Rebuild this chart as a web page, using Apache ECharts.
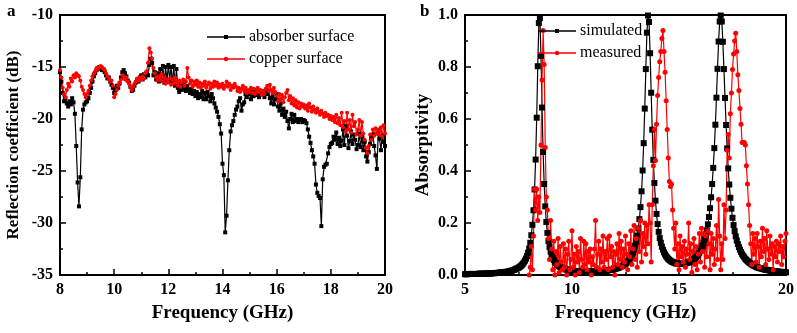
<!DOCTYPE html>
<html><head><meta charset="utf-8">
<script src="https://cdn.jsdelivr.net/npm/echarts@6/dist/echarts.min.js"></script>
<style>html,body{margin:0;padding:0;background:#fff}#c{width:797px;height:333px}</style>
</head><body><div id="c"></div>
<script>
// ---------- Panel a: reflection coefficient (dB) ----------
const freqA = [
8.00,8.05,8.10,8.15,8.20,8.25,8.30,8.35,8.40,8.45,8.50,8.55,8.60,8.65,8.70,8.75,8.80,8.85,8.90,8.95,
9.00,9.05,9.10,9.15,9.20,9.25,9.30,9.35,9.40,9.45,9.50,9.55,9.60,9.65,9.70,9.75,9.80,9.85,9.90,9.95,
10.00,10.05,10.10,10.15,10.20,10.25,10.30,10.35,10.40,10.45,10.50,10.55,10.60,10.65,10.70,10.75,10.80,10.85,10.90,10.95,
11.00,11.05,11.10,11.15,11.20,11.25,11.30,11.35,11.40,11.45,11.50,11.55,11.60,11.65,11.70,11.75,11.80,11.85,11.90,11.95,
12.00,12.05,12.10,12.15,12.20,12.25,12.30,12.35,12.40,12.45,12.50,12.55,12.60,12.65,12.70,12.75,12.80,12.85,12.90,12.95,
13.00,13.05,13.10,13.15,13.20,13.25,13.30,13.35,13.40,13.45,13.50,13.55,13.60,13.65,13.70,13.75,13.80,13.85,13.90,13.95,
14.00,14.05,14.10,14.15,14.20,14.25,14.30,14.35,14.40,14.45,14.50,14.55,14.60,14.65,14.70,14.75,14.80,14.85,14.90,14.95,
15.00,15.05,15.10,15.15,15.20,15.25,15.30,15.35,15.40,15.45,15.50,15.55,15.60,15.65,15.70,15.75,15.80,15.85,15.90,15.95,
16.00,16.05,16.10,16.15,16.20,16.25,16.30,16.35,16.40,16.45,16.50,16.55,16.60,16.65,16.70,16.75,16.80,16.85,16.90,16.95,
17.00,17.05,17.10,17.15,17.20,17.25,17.30,17.35,17.40,17.45,17.50,17.55,17.60,17.65,17.70,17.75,17.80,17.85,17.90,17.95,
18.00,18.05,18.10,18.15,18.20,18.25,18.30,18.35,18.40,18.45,18.50,18.55,18.60,18.65,18.70,18.75,18.80,18.85,18.90,18.95,
19.00,19.05,19.10,19.15,19.20,19.25,19.30,19.35,19.40,19.45,19.50,19.55,19.60,19.65,19.70,19.75,19.80,19.85,19.90,19.95,
20.00];

const absorberSurface = [
-15.5,-16.4,-17.5,-18.3,-18.0,-18.5,-18.8,-18.3,-18.6,-18.0,-18.4,-19.5,-22.6,-26.1,-28.4,-25.6,-21.0,-19.1,-18.6,-18.4,
-18.3,-18.0,-17.5,-17.0,-16.4,-15.9,-15.6,-15.3,-15.2,-15.0,-15.1,-15.3,-15.2,-15.5,-15.8,-16.1,-16.0,-16.4,-16.7,-17.0,
-17.5,-17.2,-16.8,-17.0,-16.6,-16.0,-15.5,-15.3,-15.6,-15.9,-16.3,-16.5,-16.9,-17.3,-17.2,-16.8,-16.5,-16.2,-16.4,-16.0,
-15.8,-16.2,-15.7,-16.0,-15.5,-15.8,-14.8,-14.2,-14.6,-15.8,-15.5,-16.2,-15.6,-16.4,-15.2,-16.3,-14.9,-16.5,-15.0,-16.4,
-14.8,-16.2,-15.0,-16.6,-14.9,-16.8,-15.2,-17.0,-17.4,-16.8,-17.2,-16.6,-17.0,-17.3,-16.8,-17.2,-17.5,-17.1,-17.6,-17.3,
-17.8,-17.4,-18.0,-17.6,-17.9,-17.3,-18.1,-17.5,-18.1,-17.4,-17.8,-18.3,-17.6,-18.0,-18.5,-18.9,-19.3,-19.8,-20.5,-21.4,
-24.3,-25.4,-30.9,-29.3,-25.9,-23.0,-21.2,-20.6,-20.2,-19.6,-19.1,-18.8,-18.3,-18.0,-19.2,-18.6,-18.4,-17.6,-17.9,-17.3,
-17.6,-18.1,-17.4,-17.8,-17.2,-17.7,-17.4,-17.9,-17.3,-17.6,-17.5,-17.9,-17.2,-17.6,-17.3,-18.0,-18.5,-17.8,-18.6,-18.1,
-17.6,-18.8,-19.2,-18.5,-19.6,-19.0,-19.8,-19.3,-20.2,-20.9,-20.0,-19.5,-20.3,-19.6,-20.2,-20.0,-20.3,-20.1,-20.0,-20.3,
-20.1,-20.2,-20.4,-21.0,-21.7,-22.3,-23.0,-23.6,-24.3,-26.3,-27.1,-27.4,-27.6,-30.3,-25.8,-24.6,-24.4,-24.3,-23.3,-22.7,
-22.4,-22.3,-21.7,-22.0,-21.3,-22.4,-21.8,-22.6,-22.1,-21.0,-22.5,-20.7,-21.6,-22.8,-22.1,-21.2,-22.4,-21.5,-22.0,-22.9,
-22.5,-21.4,-22.7,-21.7,-23.0,-22.2,-23.6,-24.1,-23.2,-22.4,-21.8,-21.5,-22.6,-23.5,-24.8,-21.4,-21.9,-23.0,-21.6,-22.2,
-22.6];

const copperSurface = [
-15.3,-16.0,-17.0,-17.6,-17.9,-17.2,-16.6,-16.9,-16.1,-16.4,-15.8,-16.0,-15.6,-15.8,-15.9,-16.3,-16.9,-17.2,-17.6,-17.9,
-17.6,-17.3,-16.8,-16.3,-15.9,-15.6,-15.4,-15.1,-15.2,-15.0,-14.9,-15.0,-15.2,-15.3,-15.6,-15.9,-16.1,-16.4,-16.3,-16.8,
-17.9,-17.6,-17.2,-16.8,-16.5,-16.2,-15.8,-15.9,-16.2,-16.0,-16.4,-16.6,-16.9,-17.2,-16.9,-16.6,-16.4,-16.1,-16.3,-16.0,
-16.2,-15.9,-16.1,-15.6,-15.4,-14.6,-13.2,-13.6,-14.2,-15.1,-15.6,-16.0,-16.3,-15.9,-16.2,-15.7,-16.4,-16.0,-16.6,-16.2,
-16.5,-16.1,-16.7,-16.2,-16.6,-16.0,-16.4,-16.8,-16.3,-16.9,-16.5,-16.2,-16.8,-16.4,-15.1,-16.0,-16.6,-16.3,-16.9,-16.4,
-16.7,-16.3,-16.9,-16.5,-17.0,-16.6,-16.8,-16.4,-17.0,-16.7,-16.5,-17.1,-16.6,-16.9,-16.4,-16.8,-16.5,-17.0,-16.7,-16.9,
-16.6,-17.1,-16.8,-16.4,-16.9,-16.6,-17.2,-16.8,-17.0,-16.6,-16.9,-17.3,-17.0,-17.4,-17.1,-16.8,-17.3,-17.0,-17.5,-17.2,
-17.4,-17.0,-17.5,-17.1,-17.6,-17.3,-17.0,-17.4,-17.2,-17.7,-17.3,-17.6,-17.1,-16.8,-17.3,-16.7,-17.2,-17.5,-17.0,-17.4,
-17.8,-18.3,-17.6,-18.1,-17.7,-18.4,-17.9,-17.5,-17.2,-18.2,-17.8,-18.5,-18.0,-18.7,-18.2,-18.9,-18.4,-19.0,-18.5,-18.8,
-18.6,-19.0,-18.7,-19.2,-18.5,-18.9,-19.3,-18.8,-19.1,-19.4,-19.0,-19.3,-19.6,-19.2,-19.5,-19.8,-19.4,-19.7,-19.6,-20.0,
-19.7,-20.1,-19.8,-20.3,-19.6,-20.4,-19.9,-20.6,-19.4,-20.8,-20.2,-21.2,-19.4,-21.0,-20.1,-21.3,-19.6,-20.7,-20.3,-21.5,
-21.0,-20.1,-21.6,-20.3,-21.4,-22.0,-22.8,-23.3,-22.6,-21.5,-22.0,-21.0,-21.6,-20.9,-21.4,-21.0,-21.5,-20.8,-21.7,-20.6,
-21.4];

// ---------- Panel b: absorptivity ----------
const freqSim = [
5.00,5.05,5.10,5.15,5.20,5.25,5.30,5.35,5.40,5.45,5.50,5.55,5.60,5.65,5.70,5.75,5.80,5.85,5.90,5.95,
6.00,6.05,6.10,6.15,6.20,6.25,6.30,6.35,6.40,6.45,6.50,6.55,6.60,6.65,6.70,6.75,6.80,6.85,6.90,6.95,
7.00,7.05,7.10,7.15,7.20,7.25,7.30,7.35,7.40,7.45,7.50,7.55,7.60,7.65,7.70,7.75,7.80,7.85,7.90,7.95,
8.00,8.05,8.10,8.15,8.20,8.25,8.30,8.35,8.40,8.45,8.50,8.55,8.60,8.65,8.70,8.75,8.80,8.85,8.90,8.95,
9.00,9.05,9.10,9.15,9.20,9.25,9.30,9.35,9.40,9.45,9.50,9.55,9.60,9.65,9.70,9.75,9.80,9.85,9.90,9.95,
10.00,10.05,10.10,10.15,10.20,10.25,10.30,10.35,10.40,10.45,10.50,10.55,10.60,10.65,10.70,10.75,10.80,10.85,10.90,10.95,
11.00,11.05,11.10,11.15,11.20,11.25,11.30,11.35,11.40,11.45,11.50,11.55,11.60,11.65,11.70,11.75,11.80,11.85,11.90,11.95,
12.00,12.05,12.10,12.15,12.20,12.25,12.30,12.35,12.40,12.45,12.50,12.55,12.60,12.65,12.70,12.75,12.80,12.85,12.90,12.95,
13.00,13.05,13.10,13.15,13.20,13.25,13.30,13.35,13.40,13.45,13.50,13.55,13.60,13.65,13.70,13.75,13.80,13.85,13.90,13.95,
14.00,14.05,14.10,14.15,14.20,14.25,14.30,14.35,14.40,14.45,14.50,14.55,14.60,14.65,14.70,14.75,14.80,14.85,14.90,14.95,
15.00,15.05,15.10,15.15,15.20,15.25,15.30,15.35,15.40,15.45,15.50,15.55,15.60,15.65,15.70,15.75,15.80,15.85,15.90,15.95,
16.00,16.05,16.10,16.15,16.20,16.25,16.30,16.35,16.40,16.45,16.50,16.55,16.60,16.65,16.70,16.75,16.80,16.85,16.90,16.95,
17.00,17.05,17.10,17.15,17.20,17.25,17.30,17.35,17.40,17.45,17.50,17.55,17.60,17.65,17.70,17.75,17.80,17.85,17.90,17.95,
18.00,18.05,18.10,18.15,18.20,18.25,18.30,18.35,18.40,18.45,18.50,18.55,18.60,18.65,18.70,18.75,18.80,18.85,18.90,18.95,
19.00,19.05,19.10,19.15,19.20,19.25,19.30,19.35,19.40,19.45,19.50,19.55,19.60,19.65,19.70,19.75,19.80,19.85,19.90,19.95,
20.00];

const simulated = [
0.003,0.003,0.003,0.004,0.004,0.004,0.004,0.004,0.004,0.004,0.004,0.004,0.004,0.005,0.005,0.005,0.005,0.005,0.005,0.005,
0.006,0.006,0.006,0.006,0.006,0.007,0.007,0.007,0.007,0.008,0.008,0.008,0.009,0.009,0.010,0.010,0.011,0.011,0.012,0.012,
0.013,0.014,0.015,0.016,0.017,0.019,0.020,0.022,0.024,0.026,0.028,0.031,0.034,0.038,0.043,0.048,0.055,0.063,0.073,0.086,
0.102,0.124,0.153,0.193,0.249,0.329,0.444,0.605,0.803,0.969,0.988,0.843,0.644,0.473,0.350,0.264,0.204,0.162,0.131,0.108,
0.090,0.077,0.066,0.058,0.051,0.046,0.041,0.037,0.034,0.031,0.029,0.027,0.025,0.023,0.022,0.021,0.020,0.019,0.018,0.017,
0.016,0.016,0.016,0.015,0.015,0.015,0.014,0.014,0.014,0.014,0.013,0.013,0.013,0.013,0.013,0.013,0.013,0.013,0.013,0.013,
0.013,0.013,0.013,0.014,0.014,0.014,0.015,0.015,0.015,0.016,0.016,0.016,0.017,0.017,0.018,0.019,0.020,0.020,0.021,0.022,
0.023,0.025,0.026,0.027,0.029,0.031,0.033,0.035,0.038,0.041,0.044,0.047,0.052,0.057,0.063,0.069,0.077,0.087,0.098,0.113,
0.130,0.152,0.179,0.215,0.261,0.322,0.402,0.507,0.640,0.792,0.932,0.998,0.973,0.853,0.701,0.559,0.443,0.354,0.286,0.235,
0.196,0.166,0.142,0.124,0.109,0.097,0.087,0.079,0.072,0.067,0.062,0.058,0.055,0.052,0.050,0.048,0.047,0.045,0.044,0.044,
0.043,0.043,0.043,0.043,0.043,0.044,0.045,0.046,0.047,0.049,0.051,0.053,0.055,0.058,0.061,0.065,0.069,0.074,0.079,0.086,
0.093,0.102,0.112,0.123,0.137,0.153,0.172,0.195,0.223,0.257,0.299,0.350,0.412,0.488,0.578,0.682,0.793,0.898,0.975,0.998,
0.975,0.897,0.792,0.681,0.577,0.487,0.410,0.348,0.297,0.255,0.220,0.192,0.169,0.149,0.133,0.119,0.107,0.097,0.088,0.080,
0.074,0.068,0.062,0.058,0.054,0.050,0.047,0.044,0.041,0.038,0.036,0.034,0.032,0.030,0.029,0.027,0.026,0.025,0.024,0.023,
0.021,0.020,0.020,0.019,0.018,0.017,0.017,0.016,0.015,0.015,0.014,0.014,0.013,0.013,0.012,0.012,0.012,0.011,0.011,0.011,
0.010];

const measured = [
0.00,0.03,0.11,0.02,0.15,0.33,0.25,0.33,0.21,0.30,0.24,0.50,0.75,0.94,0.81,0.49,0.30,0.25,0.14,0.06,
0.21,0.10,0.02,0.13,0.00,0.09,0.04,0.14,0.01,0.11,0.05,0.02,0.12,0.03,0.10,0.00,0.08,0.13,0.02,0.06,
0.17,0.03,0.08,0.00,0.11,0.05,0.09,0.01,0.14,0.06,0.03,0.13,0.04,0.12,0.02,0.09,0.05,0.10,0.00,0.07,
0.04,0.10,0.21,0.03,0.08,0.13,0.02,0.10,0.05,0.15,0.03,0.09,0.06,0.14,0.02,0.15,0.07,0.11,0.03,0.09,
0.00,0.08,0.12,0.04,0.16,0.06,0.13,0.03,0.10,0.05,0.15,0.08,0.02,0.12,0.07,0.17,0.04,0.10,0.19,0.06,
0.14,0.03,0.18,0.09,0.21,0.05,0.16,0.11,0.20,0.08,0.19,0.12,0.27,0.20,0.05,0.27,0.42,0.56,0.44,0.58,
0.69,0.76,0.82,0.86,0.91,0.94,0.86,0.78,0.67,0.56,0.45,0.36,0.34,0.35,0.25,0.18,0.10,0.20,0.04,0.12,
0.02,0.15,0.07,0.11,0.05,0.13,0.03,0.10,0.08,0.20,0.06,0.12,0.01,0.09,0.14,0.04,0.11,0.02,0.08,0.16,
0.05,0.18,0.09,0.16,0.03,0.15,0.07,0.17,0.12,0.02,0.16,0.08,0.14,0.04,0.10,0.19,0.06,0.29,0.15,0.02,
0.12,0.06,0.27,0.14,0.25,0.48,0.54,0.45,0.62,0.70,0.79,0.85,0.90,0.93,0.86,0.77,0.71,0.64,0.58,0.51,
0.51,0.51,0.50,0.42,0.35,0.27,0.19,0.12,0.04,0.16,0.08,0.14,0.05,0.16,0.11,0.03,0.13,0.07,0.18,0.09,
0.14,0.04,0.17,0.10,0.06,0.15,0.08,0.12,0.02,0.11,0.07,0.13,0.05,0.12,0.09,0.15,0.04,0.11,0.07,0.13,
0.16];

const xTicksA = {min: 8, max: 20, interval: 2};
const yTicksA = {min: -35, max: -10, interval: 5};
const xTicksB = {min: 5, max: 20, interval: 5};
const yTicksB = {min: 0, max: 1, interval: 0.2};

const FONT = 'Liberation Serif';
const zip = (xs, ys) => xs.map((x, i) => [x, ys[i]]);

// legend icons: thin line with a small marker in the middle (38 x 14 box)
const ICON_SQ = 'path://M0,0L0.01,0L0,0.01Z M38,14L37.99,14L38,13.99Z M0,6.3L38,6.3L38,7.7L0,7.7Z M17,5L21,5L21,9L17,9Z';
const ICON_CI = 'path://M0,0L0.01,0L0,0.01Z M38,14L37.99,14L38,13.99Z M0,6.3L38,6.3L38,7.7L0,7.7Z M21.2,7A2.2,2.2,0,1,1,16.8,7A2.2,2.2,0,1,1,21.2,7Z';

function valueAxis(idx, t, extra) {
  return Object.assign({
    type: 'value', gridIndex: idx, min: t.min, max: t.max, interval: t.interval,
    axisLine: {show: true, onZero: false, lineStyle: {color: '#000', width: 2}},
    axisTick: {show: true, inside: true, length: 6, lineStyle: {color: '#000', width: 1.5}},
    minorTick: {show: true, splitNumber: 2, length: 3, lineStyle: {color: '#000', width: 1.5}},
    splitLine: {show: false},
    axisLabel: {color: '#000', fontFamily: FONT, fontWeight: 'bold', fontSize: 16, margin: 7},
    nameLocation: 'middle',
    nameTextStyle: {color: '#000', fontFamily: FONT, fontWeight: 'bold', fontSize: 19}
  }, extra);
}

const legendCommon = {
  orient: 'vertical', padding: 0, itemWidth: 38, itemHeight: 14, itemGap: 6,
  textStyle: {fontFamily: FONT, fontSize: 16, color: '#000', padding: [0, 0, 0, -1]}
};

const chart = echarts.init(document.getElementById('c'), null, {renderer: 'canvas'});
chart.setOption({
  animation: false,
  backgroundColor: '#fff',
  grid: [
    {left: 60, top: 15, width: 325, height: 260, show: true, borderColor: '#000', borderWidth: 2, backgroundColor: 'transparent'},
    {left: 465, top: 15, width: 324, height: 260, show: true, borderColor: '#000', borderWidth: 2, backgroundColor: 'transparent'}
  ],
  xAxis: [
    valueAxis(0, xTicksA, {name: 'Frequency (GHz)', nameGap: 29}),
    valueAxis(1, xTicksB, {name: 'Frequency (GHz)', nameGap: 29})
  ],
  yAxis: [
    valueAxis(0, yTicksA, {name: 'Reflection coefficient (dB)', nameGap: 38,
      nameTextStyle: {color: '#000', fontFamily: FONT, fontWeight: 'bold', fontSize: 17}}),
    valueAxis(1, yTicksB, {name: 'Absorptivity', nameGap: 32,
      axisLabel: {color: '#000', fontFamily: FONT, fontWeight: 'bold', fontSize: 16, margin: 7,
        formatter: v => v.toFixed(1)}})
  ],
  legend: [
    Object.assign({
      data: [{name: 'absorber surface', icon: ICON_SQ}, {name: 'copper surface', icon: ICON_CI}],
      left: 207, top: 29}, legendCommon),
    Object.assign({
      data: [{name: 'simulated', icon: ICON_SQ}, {name: 'measured', icon: ICON_CI}],
      left: 538, top: 23}, legendCommon)
  ],
  graphic: [
    {type: 'text', left: 7, top: 3, style: {text: 'a', font: 'bold 17px "Liberation Serif"', fill: '#000'}},
    {type: 'text', left: 420, top: 3, style: {text: 'b', font: 'bold 17px "Liberation Serif"', fill: '#000'}}
  ],
  series: [
    {name: 'absorber surface', type: 'line', xAxisIndex: 0, yAxisIndex: 0, data: zip(freqA, absorberSurface),
     symbol: 'rect', symbolSize: 4, showAllSymbol: true, color: '#000',
     lineStyle: {color: '#000', width: 1.2}, itemStyle: {color: '#000'}},
    {name: 'copper surface', type: 'line', xAxisIndex: 0, yAxisIndex: 0, data: zip(freqA, copperSurface),
     symbol: 'circle', symbolSize: 4, showAllSymbol: true, color: '#f00',
     lineStyle: {color: '#f00', width: 1.2}, itemStyle: {color: '#f00'}},
    {name: 'simulated', type: 'line', xAxisIndex: 1, yAxisIndex: 1, data: zip(freqSim, simulated),
     symbol: 'rect', symbolSize: 6, showAllSymbol: true, color: '#000',
     lineStyle: {color: '#000', width: 1.2}, itemStyle: {color: '#000'}},
    {name: 'measured', type: 'line', xAxisIndex: 1, yAxisIndex: 1, data: zip(freqA, measured),
     symbol: 'circle', symbolSize: 5, showAllSymbol: true, color: '#f00',
     lineStyle: {color: '#f00', width: 1.2}, itemStyle: {color: '#f00'}}
  ]
});
</script>
</body></html>
